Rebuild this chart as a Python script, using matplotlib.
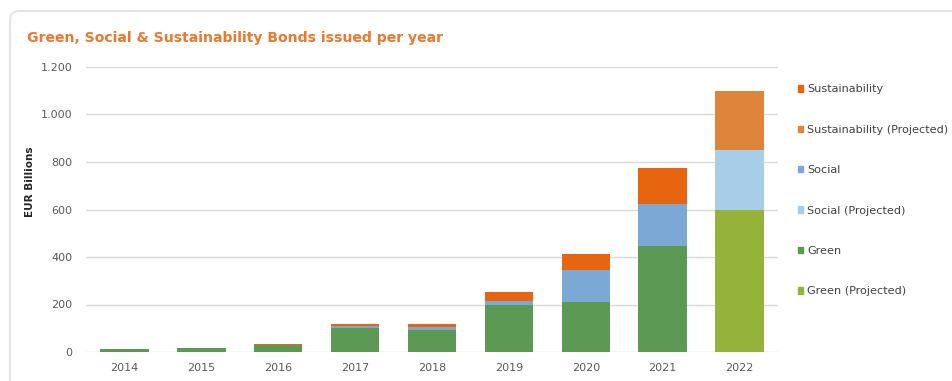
import matplotlib
matplotlib.use("Agg")
import matplotlib.pyplot as plt
import matplotlib.ticker as mticker
from matplotlib.patches import FancyBboxPatch, Patch
from matplotlib.transforms import IdentityTransform
import numpy as np

# data (EUR billions)
years = ["2014", "2015", "2016", "2017", "2018", "2019", "2020", "2021", "2022"]
green = [12, 15, 28, 103, 92, 196, 211, 448, 0]
social = [0, 0, 1, 7, 13, 17, 133, 175, 0]
sustainability = [0, 3, 3, 7, 14, 38, 69, 150, 0]
green_proj = [0, 0, 0, 0, 0, 0, 0, 0, 600]
social_proj = [0, 0, 0, 0, 0, 0, 0, 0, 250]
sustainability_proj = [0, 0, 0, 0, 0, 0, 0, 0, 250]

c_sust = "#E8650F"
c_sust_p = "#DE853A"
c_soc = "#7BA8D4"
c_soc_p = "#A7CDE9"
c_green = "#5B9954"
c_green_p = "#95B33A"
txt = "#595959"

W, H = 952, 381
fig = plt.figure(figsize=(W / 100, H / 100), dpi=100)

# card outline
card = FancyBboxPatch((10, -30), 980, 30 + (H - 11), boxstyle="round,pad=0,rounding_size=9",
                      transform=IdentityTransform(), facecolor="none",
                      edgecolor="#E4E4E4", linewidth=1.4, zorder=-1)
fig.patches.append(card)

ax = fig.add_axes([86 / W, (H - 352) / H, (778 - 86) / W, (352 - 67) / H])
ax.set_facecolor("none")

x = np.arange(len(years))
bw = 0.63
stack = [
    (green, c_green), (green_proj, c_green_p),
    (social, c_soc), (social_proj, c_soc_p),
    (sustainability, c_sust), (sustainability_proj, c_sust_p),
]
bottom = np.zeros(len(years))
for vals, col in stack:
    v = np.array(vals, dtype=float)
    ax.bar(x, v, bw, bottom=bottom, color=col, zorder=3, linewidth=0)
    bottom += v

ax.set_xlim(-0.5, len(years) - 0.5)
ax.set_ylim(0, 1200)
ax.set_yticks(range(0, 1201, 200))
ax.yaxis.set_major_formatter(mticker.FuncFormatter(lambda v, p: f"{int(v):,}".replace(",", ".")))
ax.set_xticks(x)
ax.set_xticklabels(years)
ax.grid(axis="y", color="#D9D9D9", linewidth=1, zorder=0)
for s in ["top", "right", "left", "bottom"]:
    ax.spines[s].set_visible(False)
ax.tick_params(axis="both", length=0, labelsize=8, labelcolor=txt)
ax.tick_params(axis="y", pad=10)
ax.tick_params(axis="x", pad=8)

fig.text(27 / W, 1 - 38 / H, "Green, Social & Sustainability Bonds issued per year",
         color="#E8792F", fontsize=10.1, fontweight="semibold", va="center", ha="left")
fig.text(30 / W, 1 - 182 / H, "EUR Billions", rotation=90, fontsize=7.5,
         fontweight="bold", color="#262626", va="center", ha="center")

handles = [
    Patch(color=c_sust, label="Sustainability"),
    Patch(color=c_sust_p, label="Sustainability (Projected)"),
    Patch(color=c_soc, label="Social"),
    Patch(color=c_soc_p, label="Social (Projected)"),
    Patch(color=c_green, label="Green"),
    Patch(color=c_green_p, label="Green (Projected)"),
]
leg = fig.legend(handles=handles, loc="upper left", bbox_to_anchor=(793 / W, 1 - 80 / H),
                 frameon=False, fontsize=8.1, handlelength=0.5, handleheight=0.5,
                 handletextpad=0.35, labelspacing=2.7, borderaxespad=0)
for t in leg.get_texts():
    t.set_color("#404040")

fig.savefig("out.png", dpi=100)
